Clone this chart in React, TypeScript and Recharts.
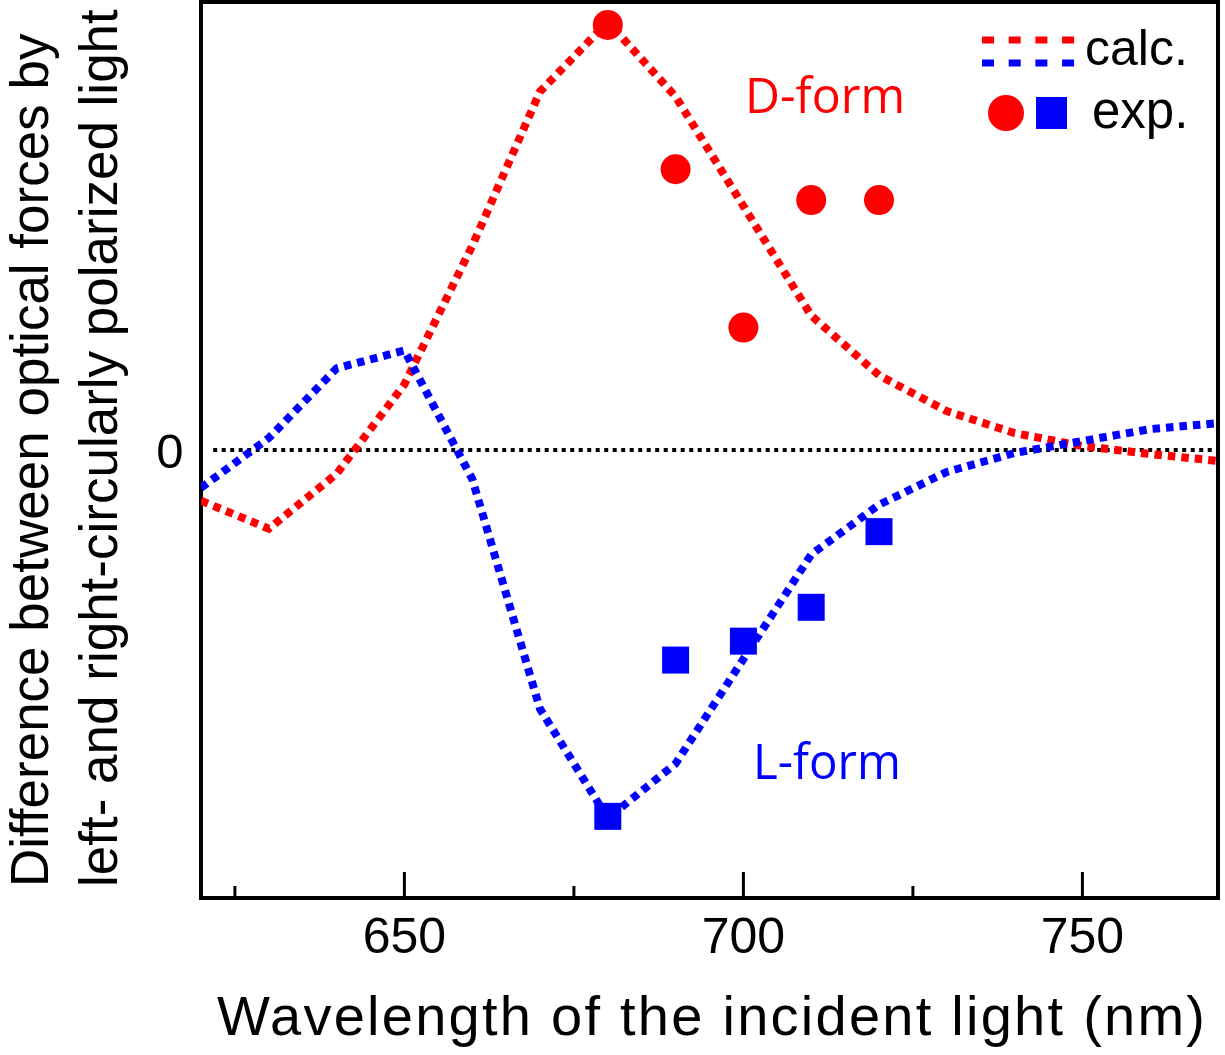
import React from 'react';
import {
  ComposedChart,
  Line,
  Scatter,
  XAxis,
  YAxis,
  ReferenceLine,
  ReferenceArea,
} from 'recharts';

// wavelength grid of the calculation (nm)
const wavelengths = [620, 630, 640, 650, 660, 670, 680, 690, 700, 710, 720, 730, 740, 750, 760, 770];
// calculated force difference, arbitrary units
const dCalc = [-0.51, -0.79, -0.24, 0.66, 2.05, 3.6, 4.3, 3.55, 2.45, 1.35, 0.75, 0.39, 0.17, 0.04, -0.04, -0.11];
const lCalc = [-0.38, 0.12, 0.82, 1.0, -0.29, -2.6, -3.7, -3.15, -2.1, -1.05, -0.55, -0.22, -0.03, 0.09, 0.21, 0.27];

// measured points
const expWavelengths = [680, 690, 700, 710, 720];
const dExp = [4.27, 2.82, 1.23, 2.51, 2.51];
const lExp = [-3.68, -2.11, -1.92, -1.58, -0.82];

const xTicks = [625, 650, 675, 700, 725, 750];
const xLabels = [650, 700, 750];

const calcData = wavelengths.map((wl, i) => ({ wl, d: dCalc[i], l: lCalc[i] }));
const dExpData = expWavelengths.map((wl, i) => ({ wl, v: dExp[i] }));
const lExpData = expWavelengths.map((wl, i) => ({ wl, v: lExp[i] }));

const RED = '#ff0000';
const BLUE = '#0000ff';
const FONT = '"Liberation Sans", Arial, sans-serif';

const XTick = (props: any) => {
  const { x, y, payload } = props;
  const major = xLabels.includes(payload.value);
  return (
    <g>
      <line x1={x} x2={x} y1={y} y2={y - (major ? 26 : 12)} stroke="#000" strokeWidth={3} />
      {major && (
        <text x={x} y={y + 55} textAnchor="middle" fontSize={50} fontFamily={FONT} fill="#000">
          {payload.value}
        </text>
      )}
    </g>
  );
};

const YTick = (props: any) => {
  const { x, y, payload } = props;
  return (
    <text x={x - 31} y={y + 18} textAnchor="middle" fontSize={49} fontFamily={FONT} fill="#000">
      {payload.value}
    </text>
  );
};

const Texts = () => (
  <g>
    <text transform="translate(48,887) rotate(-90)" fontSize={53} fontFamily={FONT} fill="#000">
      Difference between optical forces by
    </text>
    <text transform="translate(117,887) rotate(-90)" fontSize={53} fontFamily={FONT} fill="#000">
      left- and right-circularly polarized light
    </text>
    <text x={217} y={1035} fontSize={56} fontFamily={FONT} fill="#000" textLength={988}>
      Wavelength of the incident light (nm)
    </text>
    <text x={745} y={113} fontSize={49} fontFamily='"Open Sans", sans-serif' fill={RED}
      textLength={160} lengthAdjust="spacingAndGlyphs">
      D-form
    </text>
    <text x={753} y={779} fontSize={49} fontFamily='"Open Sans", sans-serif' fill={BLUE}
      textLength={148} lengthAdjust="spacingAndGlyphs">
      L-form
    </text>
    {/* legend */}
    <line x1={982} x2={1075} y1={40} y2={40} stroke={RED} strokeWidth={7} strokeDasharray="12 14.7" />
    <line x1={982} x2={1075} y1={63} y2={63} stroke={BLUE} strokeWidth={7} strokeDasharray="12 14.7" />
    <text x={1085} y={65} fontSize={50} fontFamily={FONT} fill="#000">calc.</text>
    <circle cx={1006} cy={113} r={18} fill={RED} />
    <rect x={1036} y={97} width={31} height={32} fill={BLUE} />
    <text x={1092} y={128} fontSize={51} fontFamily={FONT} fill="#000">exp.</text>
  </g>
);

export default function App() {
  return (
    <div style={{ position: 'absolute', left: 0, top: 0, width: 1225, height: 1055, background: '#fff' }}>
      <ComposedChart width={1225} height={1055} margin={{ top: 2, right: 7, bottom: 97, left: 0 }}>
        <XAxis
          dataKey="wl"
          type="number"
          domain={[620, 770]}
          ticks={xTicks}
          allowDataOverflow
          axisLine={false}
          tickLine={false}
          tickSize={0}
          tickMargin={0}
          height={60}
          tick={<XTick />}
          interval={0}
        />
        <YAxis
          type="number"
          domain={[-4.5, 4.5]}
          ticks={[0]}
          allowDataOverflow
          axisLine={false}
          tickLine={false}
          tickSize={0}
          tickMargin={0}
          width={201}
          tick={<YTick />}
        />
        <ReferenceArea x1={620} x2={770} y1={-4.5} y2={4.5} fill="none" stroke="#000" strokeWidth={4} fillOpacity={0} />
        <ReferenceLine
          segment={[{ x: 621.8, y: 0 }, { x: 770, y: 0 }]}
          stroke="#000"
          strokeWidth={4}
          strokeDasharray="4 4.5"
        />
        <Line data={calcData} dataKey="d" type="linear" stroke={RED} strokeWidth={8}
          strokeDasharray="7.5 6" dot={false} activeDot={false} isAnimationActive={false} />
        <Line data={calcData} dataKey="l" type="linear" stroke={BLUE} strokeWidth={8}
          strokeDasharray="7.5 6" dot={false} activeDot={false} isAnimationActive={false} />
        <Scatter data={dExpData} dataKey="v" isAnimationActive={false}
          shape={(p: any) => <circle cx={p.cx} cy={p.cy} r={15} fill={RED} />} />
        <Scatter data={lExpData} dataKey="v" isAnimationActive={false}
          shape={(p: any) => <rect x={p.cx - 13.5} y={p.cy - 13.5} width={27} height={27} fill={BLUE} />} />
        <Texts />
      </ComposedChart>
    </div>
  );
}
